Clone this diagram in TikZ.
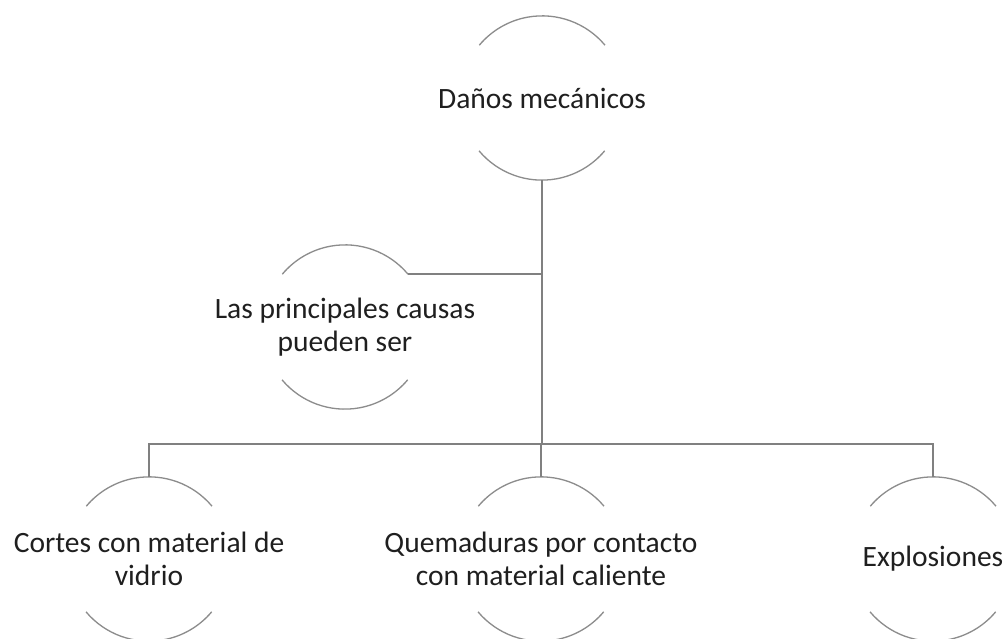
\documentclass[tikz,border=0pt]{standalone}
\usepackage{fontspec}
\setmainfont{Carlito}
\begin{document}
\begin{tikzpicture}[x=1pt,y=1pt,
  ring/.style={circle, minimum size=164pt, inner sep=0pt, draw=none},
  arcline/.style={draw=black!45, line width=1.3pt},
  conn/.style={draw=black!50, line width=1.8pt},
  lbl/.style={align=center, text=black!88, font=\fontsize{29.5}{33}\selectfont, inner sep=0pt}]
\useasboundingbox (0,0) rectangle (1008,639);
\fill[white] (0,0) rectangle (1008,639);
% circles
\node[ring] (c0) at (542,541) {};
\node[ring] (c1) at (345,312) {};
\node[ring] (c2) at (149,80) {};
\node[ring] (c3) at (541,80) {};
\node[ring] (c4) at (933,80) {};
\foreach \n in {c0,c1,c2,c3,c4}{
  \draw[arcline] (\n.40) arc[start angle=40, end angle=140, radius=82pt];
  \draw[arcline] (\n.220) arc[start angle=220, end angle=320, radius=82pt];
}
% labels
\node[lbl] (t0) at (c0) {Daños mecánicos};
\node[lbl] (t1) at (c1) {Las principales causas\\pueden ser};
\node[lbl] (t2) at (c2) {Cortes con material de\\vidrio};
\node[lbl] (t3) at (c3) {Quemaduras por contacto\\con material caliente};
\node[lbl] (t4) at (c4) {Explosiones};
% connectors
\coordinate (bus) at (542,195);
\draw[conn] (c0.south) -- (bus);
\draw[conn] (c1.40) -- (c1.40 -| c0.south);
\draw[conn] (c2.north) |- (bus) -| (c4.north);
\draw[conn] (bus -| c3.north) -- (c3.north);
\end{tikzpicture}
\end{document}
